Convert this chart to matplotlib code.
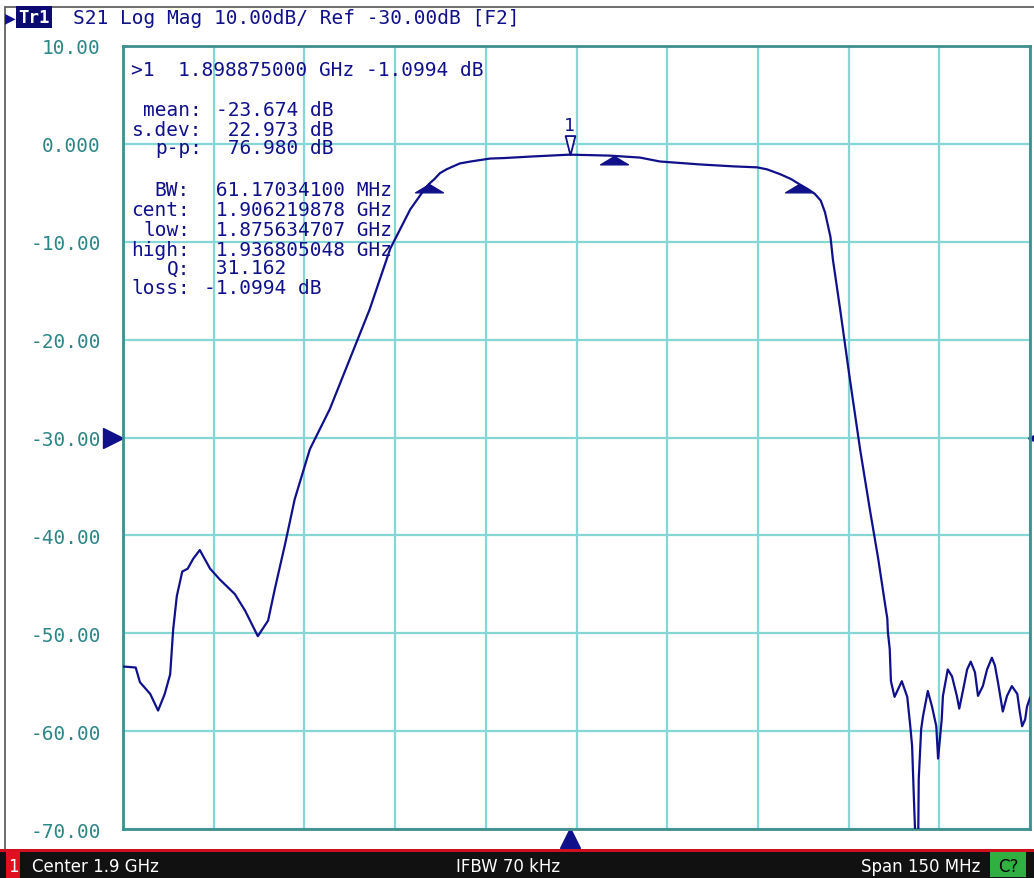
import matplotlib
matplotlib.use('Agg')
import matplotlib.pyplot as plt
from matplotlib.patches import Rectangle
import matplotlib.transforms as mtransforms

# S21 trace, MHz / dB
freq_mhz = [1825.0, 1827.1, 1827.8, 1829.5, 1830.8, 1831.9, 1832.8, 1833.3, 1833.9, 1834.8,
            1835.7, 1836.6, 1837.7, 1839.4, 1841.0, 1843.5, 1845.2, 1847.3, 1849.0, 1850.1,
            1851.8, 1853.4, 1855.9, 1859.2, 1862.5, 1865.8, 1869.2, 1872.5, 1874.9, 1875.6,
            1876.5, 1877.4, 1878.5, 1880.7, 1882.5, 1885.7, 1888.0, 1892.3, 1898.875, 1905.5,
            1910.5, 1913.8, 1920.4, 1926.0, 1929.9, 1931.5, 1933.7, 1935.5, 1936.8, 1938.2,
            1939.4, 1940.4, 1941.1, 1942.0, 1942.4, 1943.6, 1945.2, 1946.9, 1948.5, 1949.9,
            1950.9, 1951.4, 1951.5, 1951.8, 1952.0, 1952.6, 1953.8, 1954.7, 1955.2, 1955.5,
            1955.8, 1956.1, 1956.5, 1956.6, 1957.0, 1957.3, 1958.1, 1958.8, 1959.5, 1959.8,
            1960.4, 1960.6, 1961.4, 1962.1, 1962.9, 1963.3, 1963.9, 1964.6, 1965.2, 1965.9,
            1966.4, 1967.2, 1967.9, 1968.7, 1969.2, 1969.7, 1970.5, 1971.2, 1972.0, 1972.9,
            1973.3, 1973.7, 1974.2, 1974.5, 1975.0]
s21_db = [-53.4, -53.5, -55.0, -56.2, -57.9, -56.2, -54.2, -49.6, -46.2, -43.7,
          -43.4, -42.4, -41.5, -43.4, -44.5, -46.0, -47.7, -50.3, -48.7, -45.5,
          -40.9, -36.3, -31.2, -27.1, -22.0, -16.9, -10.7, -6.7, -4.6, -4.1,
          -3.6, -3.0, -2.6, -2.0, -1.8, -1.5, -1.45, -1.3, -1.0994, -1.2,
          -1.4, -1.8, -2.1, -2.3, -2.4, -2.6, -3.1, -3.6, -4.1, -4.6,
          -5.1, -5.8, -7.0, -9.5, -11.8, -16.9, -24.0, -31.2, -37.3, -42.4,
          -46.5, -48.5, -49.9, -51.6, -54.9, -56.5, -54.9, -56.5, -59.5, -61.5,
          -66.9, -72.0, -72.0, -64.9, -59.8, -58.5, -55.9, -57.5, -59.5, -62.8,
          -58.8, -56.4, -53.7, -54.4, -56.4, -57.7, -55.9, -53.7, -52.9, -54.0,
          -56.4, -55.4, -53.7, -52.5, -53.3, -55.0, -58.0, -56.4, -55.4, -56.2,
          -58.0, -59.5, -58.8, -57.5, -56.6]

marker1 = (1898.875, -1.0994)
bw_marks_mhz = [1875.634707, 1906.219878, 1936.805048]
bw_marks_db = [-4.1, -1.2, -4.1]

y_ticks = [10, 0, -10, -20, -30, -40, -50, -60, -70]
y_labels = ['10.00', '0.000', '-10.00', '-20.00', '-30.00', '-40.00', '-50.00', '-60.00', '-70.00']

stat_keys = ['mean:', 's.dev:', 'p-p:', 'BW:', 'cent:', 'low:', 'high:', 'Q:', 'loss:']
stat_vals = ['-23.674 dB', ' 22.973 dB', ' 76.980 dB', ' 61.17034100 MHz', ' 1.906219878 GHz',
             ' 1.875634707 GHz', ' 1.936805048 GHz', ' 31.162', '-1.0994 dB']
stat_rows_px = [110, 130, 149, 190, 210, 230, 250, 269, 288]

navy = '#10108a'
teal = '#2e8585'
mono = 'DejaVu Sans Mono'
fs = 14

W, H = 1034, 879
fig = plt.figure(figsize=(W / 100, H / 100), dpi=100)
fig.patch.set_facecolor('white')
ax = fig.add_axes([123 / W, 49 / H, 907 / W, 783 / H])

ax.plot(freq_mhz, s21_db, color=navy, lw=1.6, zorder=3)
ax.set_xlim(1825, 1975)
ax.set_ylim(-70, 10)
ax.set_xticks([1825 + 15 * i for i in range(11)])
ax.set_yticks(y_ticks)
ax.set_yticklabels(y_labels, fontfamily=mono, fontsize=fs, color=teal)
ax.tick_params(length=0, labelbottom=False, pad=16)
ax.grid(color='#86d6d6', lw=1.6, zorder=0)
for s in ax.spines.values():
    s.set_color('#3f8f8f')
    s.set_linewidth(2)

# bandwidth search markers (apex on the trace)
tri_up = [(0, 0), (-1, -0.6), (1, -0.6), (0, 0)]
ax.plot(bw_marks_mhz, bw_marks_db, ls='none', marker=tri_up, ms=20, color=navy, zorder=4)

# marker 1
tri_dn = [(0, 0), (-0.3, 1.2), (0.3, 1.2), (0, 0)]
ax.plot([marker1[0]], [marker1[1]], ls='none', marker=tri_dn, ms=28, mfc='white', mec=navy, mew=1.3, zorder=5)
ax.annotate('1', marker1, xytext=(0, 15), textcoords='offset points', ha='center', va='bottom',
            fontfamily=mono, fontsize=13, color=navy)

# reference level and stimulus indicators
tr_y = mtransforms.blended_transform_factory(ax.transAxes, ax.transData)
ax.plot([-0.011], [-30], marker='>', ms=14, color=navy, transform=tr_y, clip_on=False)
ax.plot([1.006], [-30], marker='<', ms=10, color=navy, transform=tr_y, clip_on=False)
tr_x = mtransforms.blended_transform_factory(ax.transData, ax.transAxes)
ax.plot([marker1[0]], [-0.011], marker='^', ms=15, color=navy, transform=tr_x, clip_on=False)


def ypos(px):
    return 1 - (px - 47) / 783


# marker readout and statistics
ax.text(8 / 907, ypos(71), '>1  1.898875000 GHz -1.0994 dB', transform=ax.transAxes, fontfamily=mono,
        fontsize=fs, color=navy, va='center', zorder=6)
for i, (k, v) in enumerate(zip(stat_keys, stat_vals)):
    key_end = 202 if i < 3 else 190
    ax.text((key_end - 123) / 907, ypos(stat_rows_px[i]), k, transform=ax.transAxes, fontfamily=mono,
            fontsize=fs, color=navy, ha='right', va='center', zorder=6)
    ax.text((key_end + 14 - 123) / 907, ypos(stat_rows_px[i]), v, transform=ax.transAxes, fontfamily=mono,
            fontsize=fs, color=navy, ha='left', va='center', zorder=6)

# header
fig.add_artist(Rectangle((5 / W, 0), 1, 1 - 8 / H, transform=fig.transFigure, fill=False,
                         ec='#555555', lw=1.2))
fig.text(5 / W, 1 - 18 / H, '\u25B6', fontsize=10, color=navy, va='center', ha='left')
fig.text(34 / W, 1 - 18 / H, 'Tr1', fontfamily=mono, fontsize=12.5, color='white', weight='bold',
         va='center', ha='center', bbox=dict(boxstyle='square,pad=0.12', fc='#0a0a70', ec='none'))
fig.text(73 / W, 1 - 18 / H, 'S21 Log Mag 10.00dB/ Ref -30.00dB [F2]', fontfamily=mono,
         fontsize=fs, color=navy, va='center', ha='left')

# status bar
fig.add_artist(Rectangle((0, 0), 1, 27 / H, transform=fig.transFigure, fc='#111111', ec='none'))
fig.add_artist(Rectangle((0, 26 / H), 1, 3 / H, transform=fig.transFigure, fc='#d01020', ec='none'))
fig.add_artist(Rectangle((6 / W, 0), 14 / W, 27 / H, transform=fig.transFigure, fc='#e01020', ec='none'))
fig.add_artist(Rectangle((990 / W, 1 / H), 36 / W, 25 / H, transform=fig.transFigure, fc='#30b040', ec='none'))
bar_y = 12 / H
fig.text(13 / W, bar_y, '1', fontsize=12, color='white', ha='center', va='center')
fig.text(32 / W, bar_y, 'Center 1.9 GHz', fontsize=12, color='white', ha='left', va='center')
fig.text(508 / W, bar_y, 'IFBW 70 kHz', fontsize=12, color='white', ha='center', va='center')
fig.text(980 / W, bar_y, 'Span 150 MHz', fontsize=12, color='white', ha='right', va='center')
fig.text(1008 / W, bar_y, 'C?', fontsize=12, color='black', ha='center', va='center')

fig.savefig('out.png', dpi=100, facecolor='white')
